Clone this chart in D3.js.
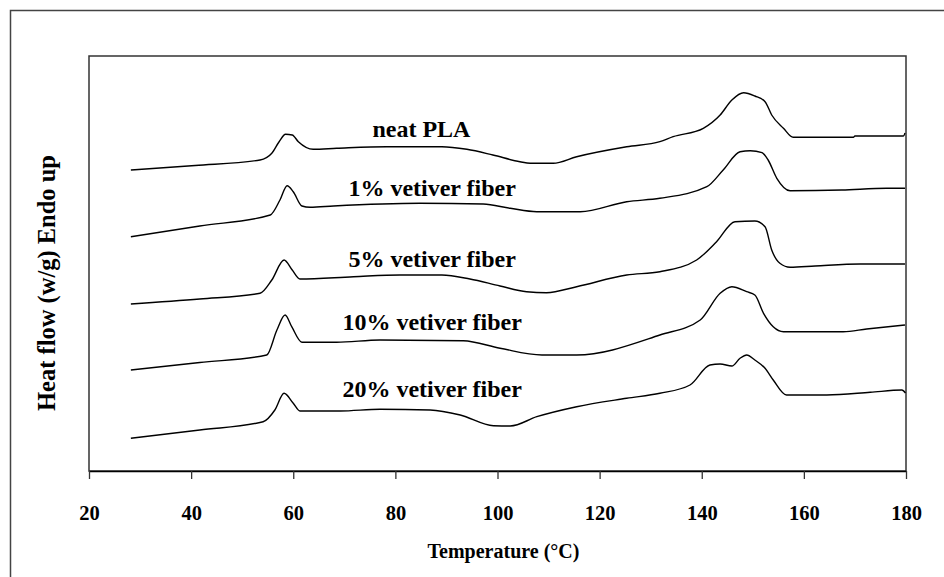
<!DOCTYPE html>
<html>
<head>
<meta charset="utf-8">
<script src="https://cdn.jsdelivr.net/npm/d3@7/dist/d3.min.js"></script>
<style>
  html, body { margin: 0; padding: 0; background: #fff; }
  svg { display: block; }
  text { font-family: "Liberation Serif", "Times New Roman", serif; font-weight: bold; fill: #000; }
</style>
</head>
<body>
<svg id="chart" width="944" height="577"></svg>
<script>
// ---- Data (temperature °C, heat flow in arbitrary offset units, Endo up) ----
const xTicks = [20, 40, 60, 80, 100, 120, 140, 160, 180];
const seriesNames = ["neat PLA", "1% vetiver fiber", "5% vetiver fiber", "10% vetiver fiber", "20% vetiver fiber"];

const neatPLA = [
  [28.2,301],[40.8,305.5],[53.5,311],[55.8,317.7],[57.2,329],[58.5,336.7],[59.8,336],[61.0,329.3],
  [63.9,321.7],[68.5,322.7],[78.3,324.3],[89.1,324.3],[94.0,321.7],[99.1,316],[104.4,309.3],
  [106.4,307.7],[110.9,307.7],[115.5,314.3],[125.3,324.3],[131.8,329.3],[134.4,334.3],[140.3,342.7],
  [143.6,356],[145.9,371],[148.2,378.3],[150.4,375],[152.4,369.3],[153.7,356],[156.0,342.7],
  [157.9,333.7],[169.7,333.7],[170.0,335],[179.5,335],[179.8,338]
];
const fiber1 = [
  [28.2,234.3],[41.7,245],[55.5,256],[57.4,271],[58.8,285.3],[60.0,279.3],[61.7,265],[63.3,263.7],
  [67.9,265],[84.8,267.7],[97.2,267],[102.5,262.7],[107.7,259.3],[116.2,259.3],[125.3,269.3],
  [131.8,272.7],[141.0,284.3],[144.2,301],[147.5,319.3],[149.5,320.3],[151.8,318.3],[153.0,311],
  [154.7,292.7],[157.3,280.3],[167.4,281],[176.2,282.7],[179.8,282.7]
];
const fiber5 = [
  [28.2,167],[41.7,172],[53.5,177.7],[55.8,191],[58.2,211],[59.8,201],[61.3,192],[71.8,194.3],
  [80.9,196],[89.1,196],[94.6,192],[100.5,185],[105.7,179.3],[109.6,178.3],[115.5,184.3],
  [125.3,196],[131.8,199.3],[139.0,211],[142.9,229.3],[146.5,249.3],[150.4,250],[152.4,244.3],
  [153.7,221],[155.3,207.7],[157.3,203.7],[162.2,205],[171.0,207],[179.8,207]
];
const fiber10 = [
  [28.2,101],[41.7,108.5],[54.8,116],[56.8,141],[58.4,156],[59.7,144.3],[61.7,128.7],[68.5,128.7],
  [77.0,131],[93.3,130.3],[100.5,122.7],[108.7,116],[115.5,116],[131.8,136],[139.7,151],
  [143.6,177.7],[145.9,184.3],[148.8,179.3],[150.4,176],[152.1,157.7],[154.0,144.3],[156.0,139.3],
  [167.7,139.3],[172.3,142],[179.8,146]
];
const fiber20 = [
  [28.2,32.7],[41.7,41],[54.1,49.3],[56.4,61],[58.2,77.7],[60.0,67.7],[61.3,60],[69.2,60],
  [77.0,61.7],[86.8,61],[92.7,56],[99.2,45.3],[102.5,45],[107.7,54.3],[115.5,64.3],[125.3,72.7],
  [131.8,77.7],[137.7,86],[141.6,106],[143.6,107],[145.9,105],[147.5,112.7],[148.8,116],
  [150.4,111],[152.4,102.7],[154.0,91],[156.6,76],[164.5,76],[173.0,78.7],[179.2,81],[179.9,78]
];
const seriesData = [neatPLA, fiber1, fiber5, fiber10, fiber20];
// label anchor (temperature, heat-flow units) for each curve label
const labelT = [85.1, 87.2, 87.2, 87.2, 87.2];
const labelV = [334, 275, 204, 141, 74];

// ---- Layout ----
const svg = d3.select("#chart");
const W = 944, H = 577;
const mLeft = 89, mRight = 906, mTop = 56, mBottom = 471;

const x = d3.scaleLinear().domain([20, 180]).range([mLeft, mRight]);
const y = d3.scaleLinear().domain([0, 415]).range([mBottom, mTop]);

// outer frame (top and left edges)
svg.append("path")
  .attr("d", `M10.5,${H} L10.5,10.5 L${W},10.5`)
  .attr("fill", "none").attr("stroke", "#444").attr("stroke-width", 1.5);

// plot box
svg.append("rect")
  .attr("x", mLeft).attr("y", mTop).attr("width", mRight - mLeft).attr("height", mBottom - mTop)
  .attr("fill", "none").attr("stroke", "#333").attr("stroke-width", 1.5);

// x axis
const xAxis = d3.axisBottom(x).tickValues(xTicks).tickSize(8).tickSizeOuter(0).tickPadding(26)
  .tickFormat(d3.format("d"));
const gx = svg.append("g").attr("transform", `translate(0,${mBottom})`).call(xAxis);
gx.select(".domain").attr("stroke", "#000").attr("stroke-width", 1.5);
gx.selectAll(".tick line").attr("stroke", "#333").attr("stroke-width", 1.3);
gx.selectAll(".tick text")
  .style("font-family", '"Liberation Serif", "Times New Roman", serif')
  .style("font-weight", "bold").style("font-size", "20.5px").attr("fill", "#000");

// axis titles
svg.append("text").attr("x", (mLeft + mRight) / 2 + 6).attr("y", 558)
  .attr("text-anchor", "middle").style("font-size", "20px").text("Temperature (°C)");
svg.append("text")
  .attr("transform", `translate(55,283) rotate(-90)`)
  .attr("text-anchor", "middle").style("font-size", "24.5px").text("Heat flow (w/g) Endo up");

// curves
const line = d3.line().x(d => x(d[0])).y(d => y(d[1])).curve(d3.curveMonotoneX);
svg.append("g").selectAll("path").data(seriesData).join("path")
  .attr("d", line).attr("fill", "none").attr("stroke", "#000").attr("stroke-width", 1.4);

// curve labels
svg.append("g").selectAll("text").data(seriesNames).join("text")
  .attr("x", (d, i) => x(labelT[i])).attr("y", (d, i) => y(labelV[i]))
  .attr("text-anchor", "middle").style("font-size", "24px")
  .text(d => d);
</script>
</body>
</html>
